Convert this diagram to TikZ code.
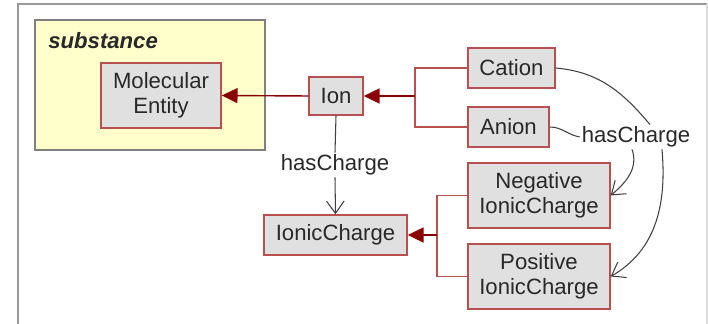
\documentclass[tikz,border=0pt]{standalone}
\usepackage{fontspec}
\setmainfont{Liberation Sans}
\usetikzlibrary{arrows.meta}

\definecolor{boxred}{RGB}{184,80,80}
\definecolor{isared}{RGB}{139,0,0}
\definecolor{boxgray}{RGB}{224,224,224}
\definecolor{subyellow}{RGB}{255,255,204}
\definecolor{inkgray}{RGB}{40,40,40}

\begin{document}
\begin{tikzpicture}[
  font=\fontsize{12.6}{14.4}\selectfont, text=inkgray,
  cls/.style={draw=boxred, line width=0.8pt, fill=boxgray, align=center, inner sep=0pt, minimum height=0.8cm},
  tree/.style={draw=boxred, line width=0.7pt},
  isa/.style={draw=isared, line width=1pt, -{Triangle[length=9pt,width=8.5pt]}},
  rel/.style={draw=black!75, line width=0.6pt},
  relto/.style={rel, -{Straight Barb[length=7pt,width=10pt]}},
  lbl/.style={inner sep=1pt}
]

\useasboundingbox (0,0) rectangle (14.16,-6.48) ;

\draw [gray!80, line width=1.1pt] (0.36,-6.48) to (0.36,-0.08) to (14.14,-0.08) ;
\draw [gray!30, line width=0.6pt] (14.14,-0.08) to (14.14,-6.48) ;

\draw [fill=subyellow, draw=gray, line width=0.9pt] (0.70,-0.40) rectangle (5.30,-3.00) ;
\node [anchor=west, inner sep=0pt] (sub) at (0.96,-0.82) {\bfseries\itshape substance} ;

\node [cls, minimum width=2.4cm, minimum height=1.3cm] (mol) at (3.22,-1.91) {Molecular\\Entity} ;
\node [cls, minimum width=1.08cm, minimum height=0.76cm] (ion) at (6.72,-1.92) {Ion} ;
\node [cls, minimum width=1.74cm] (cation) at (10.23,-1.36) {Cation} ;
\node [cls, minimum width=1.62cm] (anion) at (10.17,-2.54) {Anion} ;
\node [cls, minimum width=2.86cm] (ionic) at (6.71,-4.70) {IonicCharge} ;
\node [cls, minimum width=2.84cm, minimum height=1.3cm] (neg) at (10.78,-3.91) {Negative\\IonicCharge} ;
\node [cls, minimum width=2.84cm, minimum height=1.3cm] (pos) at (10.78,-5.53) {Positive\\IonicCharge} ;

\node [lbl] (hcion) at (6.70,-3.30) {hasCharge} ;
\node [lbl] (hcanion) at (12.72,-2.74) {hasCharge} ;

\coordinate (jion) at (8.30,-1.92) ;
\coordinate (jcharge) at (8.74,-4.70) ;

\draw [isa, line width=0.8pt] (ion.west) to (mol.east) ;
\draw [tree] (cation.west) -| (jion) ;
\draw [tree] (anion.west) -| (jion) ;
\draw [isa] (jion) to (ion.east) ;

\draw [tree] (neg.west) -| (jcharge) ;
\draw [tree] (pos.west) -| (jcharge) ;
\draw [isa] (jcharge) to (ionic.east) ;

\draw [rel] (ion.south) to (hcion.north) ;
\draw [relto] (hcion.south) to (ionic.north) ;

\draw [rel] (anion.east) to [out=0, in=170] (hcanion.west) ;
\draw [rel] (cation.east) to [out=-5, in=130] ([xshift=0.28cm]hcanion.north) ;
\draw [relto] ([xshift=-0.08cm]hcanion.south) to [out=-70, in=40] (neg.east) ;
\draw [relto] ([xshift=0.52cm]hcanion.south) to [out=-85, in=30] (pos.east) ;

\end{tikzpicture}
\end{document}
